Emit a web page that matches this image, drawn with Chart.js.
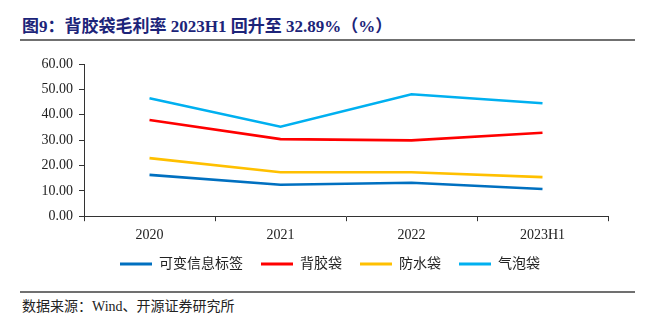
<!DOCTYPE html>
<html>
<head>
<meta charset="utf-8">
<script src="https://cdn.jsdelivr.net/npm/chart.js@4.4.0/dist/chart.umd.min.js"></script>
<style>
  body { margin: 0; width: 655px; height: 325px; background: #fff; position: relative; overflow: hidden;
         font-family: "Liberation Serif", "Noto Sans CJK SC", serif; }
  .title { position: absolute; left: 22px; top: 16px; font-size: 17px; line-height: 22px; font-weight: bold; color: #1c2479; white-space: nowrap; }
  .rule { position: absolute; left: 20px; width: 615px; height: 0; border-top: 2px solid #707070; }
  .source { position: absolute; left: 22px; top: 298px; font-size: 14px; line-height: 18px; color: #222; white-space: nowrap; }
  #wrap { position: absolute; left: 0; top: 45px; width: 655px; height: 236px; }
</style>
</head>
<body>
<div class="title">图9：背胶袋毛利率 2023H1 回升至 32.89%（%）</div>
<div class="rule" style="top:39px"></div>
<div id="wrap"><canvas id="chart"></canvas></div>
<div class="rule" style="top:291px"></div>
<div class="source">数据来源：Wind、开源证券研究所</div>
<script>
// 分类和各系列毛利率 (%)
var years = ['2020', '2021', '2022', '2023H1'];
var labelTag = [16.3, 12.4, 13.2, 10.7];      // 可变信息标签
var adhesiveBag = [37.9, 30.4, 29.9, 32.89];   // 背胶袋
var waterproofBag = [22.9, 17.3, 17.3, 15.4];  // 防水袋
var bubbleBag = [46.5, 35.3, 48.1, 44.5];      // 气泡袋
var yTicks = [0, 10, 20, 30, 40, 50, 60];

var fontFamily = '"Liberation Serif", "Noto Sans CJK SC", serif';

function series(label, data, color) {
    return {
        label: label,
        data: data,
        borderColor: color,
        backgroundColor: color,
        borderWidth: 2.6,
        pointRadius: 0,
        tension: 0,
        fill: false
    };
}

new Chart(document.getElementById('chart'), {
    type: 'line',
    data: {
        labels: years,
        datasets: [
            series('可变信息标签', labelTag, '#0070c0'),
            series('背胶袋', adhesiveBag, '#ff0000'),
            series('防水袋', waterproofBag, '#ffc000'),
            series('气泡袋', bubbleBag, '#00b0f0')
        ]
    },
    options: {
        responsive: true,
        maintainAspectRatio: false,
        animation: false,
        layout: { padding: { left: 5, right: 0, top: 19, bottom: 0 } },
        plugins: {
            tooltip: { enabled: false },
            legend: {
                position: 'bottom',
                labels: {
                    font: { family: fontFamily, size: 14 },
                    color: '#222',
                    boxWidth: 32,
                    boxHeight: 3,
                    padding: 18,
                    generateLabels: function (chart) {
                        return chart.data.datasets.map(function (ds, i) {
                            return {
                                text: ds.label,
                                fillStyle: ds.borderColor,
                                strokeStyle: ds.borderColor,
                                lineWidth: 0,
                                datasetIndex: i,
                                fontColor: '#222'
                            };
                        });
                    }
                }
            }
        },
        scales: {
            x: {
                offset: true,
                afterFit: function (scale) { scale.height -= 11; },
                grid: { offset: true, drawOnChartArea: false, drawTicks: true, tickLength: 5, color: '#333' },
                border: { color: '#333', width: 1 },
                ticks: { font: { family: fontFamily, size: 14 }, color: '#222', padding: 6 }
            },
            y: {
                min: 0,
                max: 60,
                afterFit: function (scale) { scale.width = 79; },
                afterBuildTicks: function (scale) {
                    scale.ticks = yTicks.map(function (v) { return { value: v }; });
                },
                grid: { drawOnChartArea: false, drawTicks: true, tickLength: 5, color: '#333' },
                border: { color: '#333', width: 1 },
                ticks: {
                    font: { family: fontFamily, size: 14 },
                    color: '#222',
                    padding: 6,
                    callback: function (v) { return v.toFixed(2); }
                }
            },
            // 右侧空白轴，只用来留出右边距
            yRight: {
                position: 'right',
                min: 0,
                max: 60,
                afterFit: function (scale) { scale.width = 47; },
                grid: { display: false },
                border: { display: false },
                ticks: { display: false }
            }
        }
    }
});
</script>
</body>
</html>
